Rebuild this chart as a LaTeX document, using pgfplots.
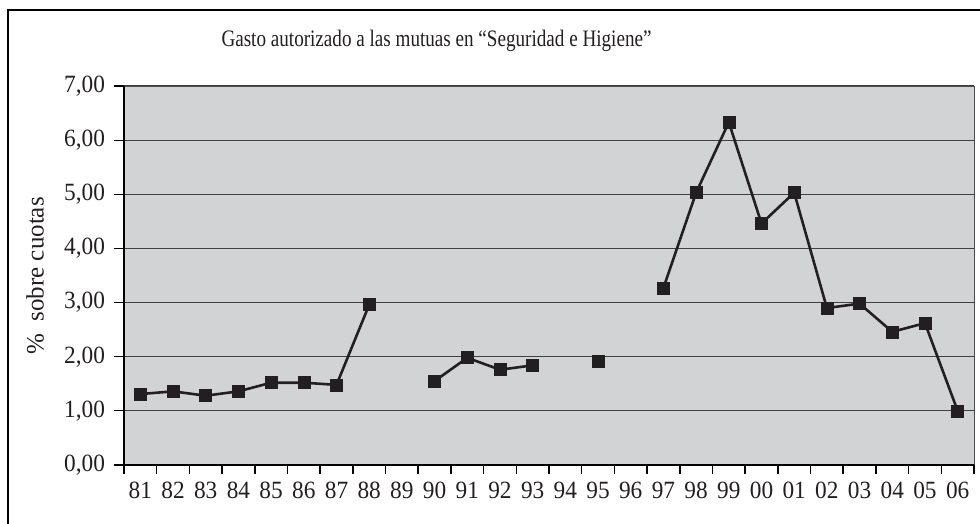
\documentclass[border=0pt]{standalone}
\usepackage{pgfplots}
\pgfplotsset{compat=1.18}
\usepackage{fontspec}
\setmainfont{Liberation Serif}
\newfontfamily\tickfont[FakeStretch=0.94]{Liberation Serif}
\newfontfamily\titlefont[FakeStretch=0.81]{Liberation Serif}
\definecolor{plotbg}{RGB}{210,211,213}
\definecolor{ink}{RGB}{35,31,32}
\begin{document}
\begin{tikzpicture}[x=1pt,y=1pt]
\begin{axis}[
  at={(62pt,29.5pt)}, anchor=south west,
  scale only axis, width=425pt, height=189.5pt,
  xmin=-0.5, xmax=25.5, ymin=0, ymax=7,
  axis background/.style={fill=plotbg},
  axis line style={draw=none},
  xtick pos=bottom, ytick pos=left,
  xtick={0,...,25},
  xticklabels={81,82,83,84,85,86,87,88,89,90,91,92,93,94,95,96,97,98,99,00,01,02,03,04,05,06},
  minor xtick={-0.5,0.5,...,25.5},
  major x tick style={draw=none},
  minor x tick style={draw=black, line width=0.8pt},
  ytick={0,...,7},
  yticklabels={{0,00},{1,00},{2,00},{3,00},{4,00},{5,00},{6,00},{7,00}},
  y tick style={draw=black, line width=0.6pt},
  tick align=outside, major tick length=5pt, minor tick length=4.5pt,
  ymajorgrids, major grid style={draw=black!75, line width=0.55pt},
  ticklabel style={font=\tickfont\fontsize{12.4}{13}\selectfont, text=ink},
  xticklabel style={anchor=north, yshift=0pt},
  yticklabel style={anchor=east, xshift=-1pt},
  unbounded coords=jump,
  clip=false,
]
\addplot[draw=ink, line width=1.3pt, mark=square*, mark size=3pt, mark options={fill=ink, draw=ink, line width=0.3pt}] coordinates {
(0,1.31) (1,1.36) (2,1.28) (3,1.36) (4,1.52) (5,1.52) (6,1.48) (7,2.96)
(8,nan) (9,1.55) (10,1.98) (11,1.76) (12,1.84) (13,nan) (14,1.92) (15,nan)
(16,3.27) (17,5.03) (18,6.33) (19,4.46) (20,5.03) (21,2.90) (22,2.98)
(23,2.46) (24,2.62) (25,1.00)
};
\draw[black!70, line width=0.5pt] (rel axis cs:0,1) -- (rel axis cs:1,1) -- (rel axis cs:1,0);
\draw[black, line width=0.9pt] (rel axis cs:0,1) -- (rel axis cs:0,0) -- (rel axis cs:1,0);
\end{axis}
\draw[black, line width=0.8pt] (4pt,-10pt) -- (4pt,257pt) -- (500pt,257pt);
\node[font=\titlefont\fontsize{11.8}{13}\selectfont, text=ink] at (218.25pt,241.5pt) {Gasto autorizado a las mutuas en “Seguridad e Higiene”};
\node[font=\fontsize{12.5}{13}\selectfont, text=ink, rotate=90] at (17.5pt,124pt) {\%\ \ sobre cuotas};
\pgfresetboundingbox
\useasboundingbox (0,0) rectangle (490pt,262pt);
\end{tikzpicture}
\end{document}
